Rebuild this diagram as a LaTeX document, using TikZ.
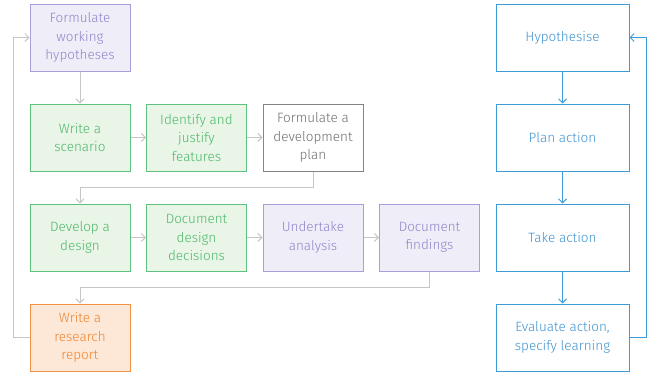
\documentclass[tikz,border=0pt]{standalone}
\usepackage{fontspec}
\setmainfont{Fira Sans}[UprightFont=* Light]
\usetikzlibrary{arrows.meta}
\definecolor{purT}{HTML}{8F83CA}
\definecolor{purB}{HTML}{A99EDA}
\definecolor{purF}{HTML}{EFEEF8}
\definecolor{grnT}{HTML}{4BB76A}
\definecolor{grnB}{HTML}{5EC27E}
\definecolor{grnF}{HTML}{E9F5E6}
\definecolor{orT}{HTML}{F0822C}
\definecolor{orB}{HTML}{F39245}
\definecolor{orF}{HTML}{FDE8D7}
\definecolor{gyT}{HTML}{6E6E6E}
\definecolor{gyB}{HTML}{858585}
\definecolor{bluT}{HTML}{3E93D0}
\definecolor{bluB}{HTML}{3F9AD8}
\definecolor{conn}{HTML}{C6C6C6}
\tikzset{
  box/.style={draw, line width=1pt, minimum width=100pt, minimum height=67pt, align=center,
    font=\fontsize{13.5}{18.5}\selectfont, inner sep=2pt},
  purbox/.style={box, draw=purB, fill=purF, text=purT},
  grnbox/.style={box, draw=grnB, fill=grnF, text=grnT},
  orbox/.style={box, draw=orB, fill=orF, text=orT},
  gybox/.style={box, draw=gyB, fill=white, text=gyT},
  blubox/.style={box, draw=bluB, fill=white, text=bluT, minimum width=133pt},
  conline/.style={draw=conn, line width=1pt, -{Straight Barb[length=4pt,width=8pt]}},
  bluline/.style={draw=bluB, line width=1pt, -{Straight Barb[length=4pt,width=8pt]}},
}
\begin{document}
\begin{tikzpicture}[x=1pt,y=-1pt]
\useasboundingbox (0,0) rectangle (651,372);
% left flow
\node[purbox] (fwh) at (80,37.5) {Formulate\\working\\hypotheses};
\node[grnbox] (ws) at (80,137.5) {Write a\\scenario};
\node[grnbox] (ijf) at (196.5,137.5) {Identify and\\justify\\features};
\node[gybox] (fdp) at (313,137.5) {Formulate a\\development\\plan};
\node[grnbox] (dd) at (80,237.5) {Develop a\\design};
\node[grnbox] (ddd) at (196.5,237.5) {Document\\design\\decisions};
\node[purbox] (ua) at (313,237.5) {Undertake\\analysis};
\node[purbox] (df) at (429.5,237.5) {Document\\findings};
\node[orbox] (wrr) at (80,337.5) {Write a\\research\\report};
% right flow
\node[blubox] (hyp) at (562.5,37.5) {Hypothesise};
\node[blubox] (pa) at (562.5,137.5) {Plan action};
\node[blubox] (ta) at (562.5,237.5) {Take action};
\node[blubox] (ea) at (562.5,337.5) {Evaluate action,\\specify learning};
% connectors left
\draw[conline] (fwh) -- (ws);
\draw[conline] (ws) -- (ijf);
\draw[conline] (ijf) -- (fdp);
\draw[conline] (fdp.south) |- (80,187.5) -- (dd.north);
\draw[conline] (dd) -- (ddd);
\draw[conline] (ddd) -- (ua);
\draw[conline] (ua) -- (df);
\draw[conline] (df.south) |- (80,287.5) -- (wrr.north);
\draw[conline] (wrr.west) -| (13,37.5) -- (fwh.west);
% connectors right
\draw[bluline] (hyp) -- (pa);
\draw[bluline] (pa) -- (ta);
\draw[bluline] (ta) -- (ea);
\draw[bluline] (ea.east) -| (646,37.5) -- (hyp.east);
\end{tikzpicture}
\end{document}
